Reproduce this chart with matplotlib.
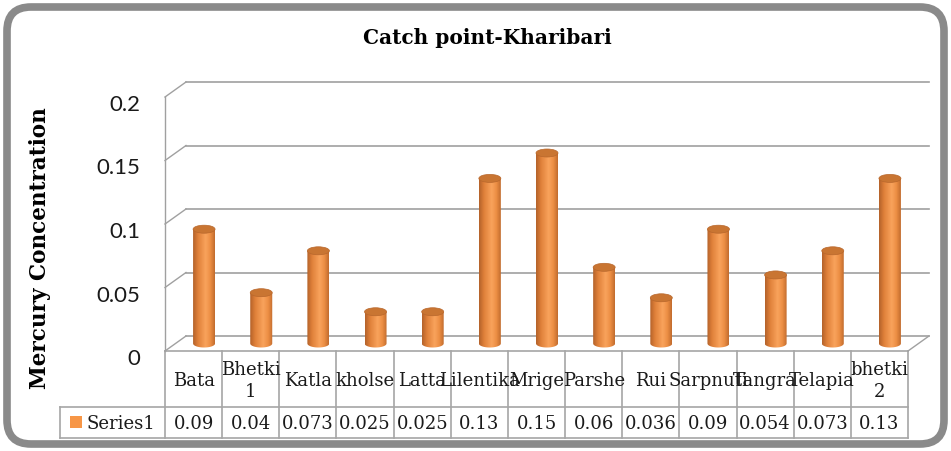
import numpy as np
import matplotlib
matplotlib.use("Agg")
import matplotlib.pyplot as plt
import matplotlib.transforms as mtransforms
from matplotlib.patches import Ellipse, PathPatch, FancyBboxPatch, Rectangle
from matplotlib.path import Path
from matplotlib.colors import LinearSegmentedColormap

# data
categories = ["Bata", "Bhetki\n1", "Katla", "kholse", "Latta", "Lilentika", "Mrige",
              "Parshe", "Rui", "Sarpnuti", "Tangra", "Telapia", "bhetki\n2"]
values = [0.09, 0.04, 0.073, 0.025, 0.025, 0.13, 0.15, 0.06, 0.036, 0.09, 0.054, 0.073, 0.13]
yticks = [0, 0.05, 0.1, 0.15, 0.2]
ytick_labels = ["0", "0.05", "0.1", "0.15", "0.2"]
series_name = "Series1"
title = "Catch point-Kharibari"
ylabel = "Mercury Concentration"

W, H = 951, 452
fig = plt.figure(figsize=(W / 100, H / 100), dpi=100)

# pixel overlay for frame, table, text
px = fig.add_axes([0, 0, 1, 1])
px.set_xlim(0, W)
px.set_ylim(H, 0)
px.axis("off")

# front plane of the plot area
L, R, T, B = 165, 908, 98, 352
ax = fig.add_axes([L / W, (H - B) / H, (R - L) / W, (B - T) / H])
ax.patch.set_alpha(0)
n = len(categories)
ax.set_xlim(-0.5, n - 0.5)
ax.set_ylim(0, 0.2)
ax.axis("off")

col_w = (R - L) / n
dx = 21 / col_w                # depth offset in category units
dy = 15 * 0.2 / (B - T)        # depth offset in value units
grid_c = "#a0a0a0"
tab_c = "#a6a6a6"

# outer rounded frame
frame = FancyBboxPatch((7, 8), W - 14, H - 15, boxstyle="round,pad=0,rounding_size=24",
                       fc="white", ec="#8a8a8a", lw=5.5, zorder=0)
px.add_patch(frame)

# walls / gridlines
for t in yticks:
    ax.plot([-0.5 + dx, n - 0.5 + dx], [t + dy, t + dy], color=grid_c, lw=1.2, clip_on=False)
    ax.plot([-0.5, -0.5 + dx], [t, t + dy], color=grid_c, lw=1.0, clip_on=False)
ax.plot([-0.5, -0.5], [0, 0.2], color=grid_c, lw=1.0, clip_on=False)
ax.plot([n - 0.5, n - 0.5 + dx], [0, dy], color=grid_c, lw=1.0, clip_on=False)

# cylinders
cmap = LinearSegmentedColormap.from_list(
    "cyl", [(0, "#b4622a"), (0.22, "#df8039"), (0.58, "#f9a35c"), (0.8, "#ec8e44"), (1, "#c26c2e")])
bw = 22 / col_w
eh = 8 * 0.2 / (B - T)
grad = np.linspace(0, 1, 64).reshape(1, -1)
for i, v in enumerate(values):
    xc = i + dx / 2
    base = dy / 2
    top = v + dy / 2
    x0, x1 = xc - bw / 2, xc + bw / 2
    th = np.linspace(np.pi, 2 * np.pi, 30)
    verts = [(x0, top), (x0, base)]
    verts += list(zip(xc + bw / 2 * np.cos(th), base + eh / 2 * np.sin(th)))
    verts += [(x1, base), (x1, top), (x0, top)]
    body = PathPatch(Path(verts, closed=True), transform=ax.transData, fc="none", ec="none")
    ax.add_patch(body)
    im = ax.imshow(grad, cmap=cmap, extent=[x0, x1, base - eh, top], aspect="auto",
                   interpolation="bilinear", zorder=3)
    im.set_clip_path(body)
    ax.add_patch(Ellipse((xc, top), bw, eh, fc="#c97532", ec="#b8672c", lw=0.5, zorder=4))
ax.set_xlim(-0.5, n - 0.5)
ax.set_ylim(0, 0.2)

# y tick labels
tr_y = mtransforms.blended_transform_factory(px.transData, ax.transData)
off = mtransforms.ScaledTranslation(0, -7 / 100, fig.dpi_scale_trans)
for t, lab in zip(yticks, ytick_labels):
    px.text(140, t, lab, transform=tr_y + off, ha="right", va="center",
            fontsize=16, family=["Lato", "Open Sans", "DejaVu Sans"], color="#1a1a1a")

# data table under the plot
tr_x = mtransforms.blended_transform_factory(ax.transData, px.transData)
r0, r1, r2 = 352, 408, 439
for k in range(n + 1):
    px.plot([k - 0.5, k - 0.5], [r0, r2], color=tab_c, lw=1.2, transform=tr_x)
px.plot([L, R], [r0, r0], color=tab_c, lw=1.2)
px.plot([60, R], [r1, r1], color=tab_c, lw=1.2)
px.plot([60, R], [r2, r2], color=tab_c, lw=1.2)
px.plot([60, 60], [r1, r2], color=tab_c, lw=1.2)
for i, (c, v) in enumerate(zip(categories, values)):
    px.text(i, (r0 + r1) / 2 + 1, c, transform=tr_x, ha="center", va="center",
            fontsize=13, family="DejaVu Serif", color="#1a1a1a", linespacing=1.35)
    px.text(i, (r1 + r2) / 2 + 1, str(v), transform=tr_x, ha="center", va="center",
            fontsize=13, family="DejaVu Serif", color="#1a1a1a")
px.add_patch(Rectangle((70, 417), 12, 12, fc="#f79646", ec="none"))
px.text(87, (r1 + r2) / 2 + 1, series_name, ha="left", va="center",
        fontsize=13, family="DejaVu Serif", color="#1a1a1a")

# titles
px.text(487, 38, title, ha="center", va="center", fontsize=14.5, family="DejaVu Serif",
        weight="bold", color="black")
px.text(40, 248, ylabel, ha="center", va="center", rotation=90, fontsize=15.5,
        family="DejaVu Serif", weight="bold", color="black")

fig.savefig("out.png", dpi=100)
